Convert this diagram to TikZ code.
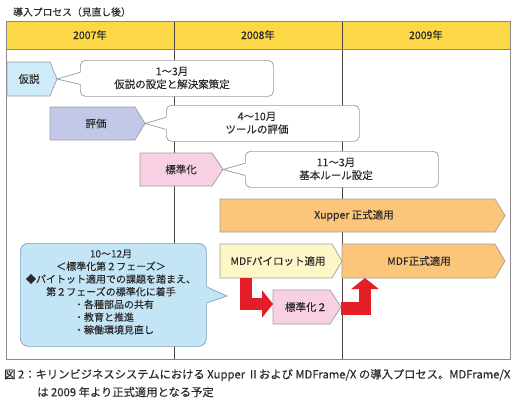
\documentclass[tikz,border=0pt]{standalone}
\usepackage{fontspec}
\setmainfont{Noto Sans CJK JP}[BoldFont=Noto Sans CJK JP,BoldFeatures={FakeBold=0.2}]
\usetikzlibrary{arrows.meta,calc}
\definecolor{hdr}{HTML}{FDD846}
\definecolor{txt}{HTML}{2A2A2A}
\definecolor{frame}{HTML}{8A8A8A}
\definecolor{colline}{HTML}{4E4444}
\definecolor{cyanfill}{HTML}{CDEBF8}
\definecolor{lavfill}{HTML}{C3C8E8}
\definecolor{pinkfill}{HTML}{F8D0E4}
\definecolor{orangefill}{HTML}{FBC67A}
\definecolor{yelfill}{HTML}{FFF6C8}
\definecolor{bigfill}{HTML}{C4E5F6}
\definecolor{bigline}{HTML}{7B9FB8}
\definecolor{redarr}{HTML}{E41E26}
\tikzset{
  every node/.style={font=\bfseries},
  phaseline/.style={draw=gray!75,line width=0.7pt},
  phasetext/.style={text=txt,font=\fontsize{10.5}{13}\selectfont\bfseries,inner sep=0pt},
  calloutbox/.style={draw=gray!80,line width=0.7pt,fill=white,rounded corners=5pt,inner sep=0pt},
  calloutline/.style={draw=gray!80,line width=0.7pt},
  ctext/.style={text=txt,font=\fontsize{10.5}{13}\selectfont\bfseries,align=center,inner sep=0pt},
  hdrtext/.style={text=txt,font=\fontsize{10.5}{13}\selectfont\bfseries,inner sep=0pt},
  redarrow/.style={draw=redarr,line width=12.5pt,line join=miter,-{Triangle[width=27pt,length=11pt]}},
}
\newcommand\phasebox[9]{%
  \draw[phaseline,fill=#7] (#2,#3) -- ({#4-#6},#3) -- (#4,{(#3+#5)/2}) -- ({#4-#6},#5) -- (#2,#5) -- cycle;
  \coordinate (#1-w) at (#2,{(#3+#5)/2});
  \coordinate (#1-tip) at (#4,{(#3+#5)/2});
  \coordinate (#1-sw) at (#2,#5);
  \node[phasetext] (#1) at (#9,{(#3+#5)/2}) {#8};
}
\begin{document}
\begin{tikzpicture}[x=1pt,y=-1pt]
\useasboundingbox (0,0) rectangle (517,405);
% title
\node[text=txt,font=\fontsize{9.8}{12}\selectfont\bfseries,anchor=west,inner sep=0pt] (title) at (13,12) {導入プロセス（見直し後）};
% table
\fill[hdr] (6,21) rectangle (510,49);
\draw[colline,line width=0.7pt] (174,21) -- (174,359);
\draw[colline,line width=0.7pt] (342,21) -- (342,359);
\draw[frame,line width=0.8pt] (6,49) -- (510,49);
\draw[frame,line width=0.8pt] (6,21) rectangle (510,359);
\node[hdrtext] (y2007) at (90,35) {2007年};
\node[hdrtext] (y2008) at (258,35) {2008年};
\node[hdrtext] (y2009) at (426,35) {2009年};
% phases
\phasebox{kasetsu}{7}{62}{57}{96}{7}{cyanfill}{仮説}{29}
\phasebox{hyoka}{50}{107}{145}{140}{10}{lavfill}{評価}{96}
\phasebox{std}{140}{153}{223}{186}{11}{pinkfill}{標準化}{181}
\phasebox{xupper}{220}{199}{505}{232}{10}{orangefill}{Xupper 正式適用}{354}
\phasebox{pilot}{220}{244}{342}{278}{10}{yelfill}{MDFパイロット適用}{278}
\phasebox{mdf}{342}{244}{505}{278}{10}{orangefill}{MDF正式適用}{419}
\phasebox{stdtwo}{273}{290}{341}{324}{11}{pinkfill}{標準化２}{306}
% callouts
\node[calloutbox,minimum width=193pt,minimum height=36pt,anchor=north west] (c1) at (80,60) {};
\fill[white] ([xshift=1pt,yshift=6pt]c1.west) -- (kasetsu-tip) -- ([xshift=1pt,yshift=-6pt]c1.west) -- cycle;
\draw[calloutline] ([yshift=6pt]c1.west) -- (kasetsu-tip) -- ([yshift=-6pt]c1.west);
\node[ctext] (c1t) at (172,78) {1～3月\\仮説の設定と解決案策定};

\node[calloutbox,minimum width=193pt,minimum height=36pt,anchor=north west] (c2) at (166,105) {};
\fill[white] ([xshift=1pt,yshift=6pt]c2.west) -- (hyoka-tip) -- ([xshift=1pt,yshift=-6pt]c2.west) -- cycle;
\draw[calloutline] ([yshift=6pt]c2.west) -- (hyoka-tip) -- ([yshift=-6pt]c2.west);
\node[ctext] (c2t) at (257,123) {4～10月\\ツールの評価};

\node[calloutbox,minimum width=193pt,minimum height=36pt,anchor=north west] (c3) at (245,151) {};
\fill[white] ([xshift=1pt,yshift=6pt]c3.west) -- (std-tip) -- ([xshift=1pt,yshift=-6pt]c3.west) -- cycle;
\draw[calloutline] ([yshift=6pt]c3.west) -- (std-tip) -- ([yshift=-6pt]c3.west);
\node[ctext] (c3t) at (336,169) {11～3月\\基本ルール設定};

% big callout
\coordinate (bigtip) at (227,296);
\node[draw=bigline,fill=bigfill,line width=0.7pt,rounded corners=8pt,minimum width=186pt,minimum height=103pt,anchor=north west,inner sep=0pt] (big) at (20,243) {};
\fill[bigfill] ([xshift=-1pt,yshift=8pt]big.east) -- (bigtip) -- ([xshift=-1pt,yshift=-8pt]big.east) -- cycle;
\draw[bigline,line width=0.7pt] ([yshift=8pt]big.east) -- (bigtip) -- ([yshift=-8pt]big.east);
\node[text=txt,font=\fontsize{10}{12.7}\selectfont\bfseries,align=center,inner sep=0pt] (bigt) at (111,292)
 {10～12月\\＜標準化第２フェーズ＞\\◆パイトット適用での課題を踏まえ、\\第２フェーズの標準化に着手\\
 \makebox[74pt][l]{・各種部品の共有}\\\makebox[74pt][l]{・教育と推進}\\\makebox[74pt][l]{・稼働環境見直し}};
% red arrows
\draw[redarrow] ([xshift=26pt]pilot-sw) |- ([yshift=3pt]stdtwo-w);
\draw[redarrow] ([yshift=-1.5pt]stdtwo-tip) -| ([xshift=23pt]mdf-sw);
% caption
\node[text=txt,font=\fontsize{11.3}{14}\selectfont\bfseries,anchor=west,inner sep=0pt] (cap1) at (4,375) {図 2：キリンビジネスシステムにおける Xupper Ⅱおよび MDFrame/X の導入プロセス。MDFrame/X};
\node[text=txt,font=\fontsize{11.3}{14}\selectfont\bfseries,anchor=west,inner sep=0pt] (cap2) at (37,392) {は 2009 年より正式適用となる予定};
\end{tikzpicture}
\end{document}
